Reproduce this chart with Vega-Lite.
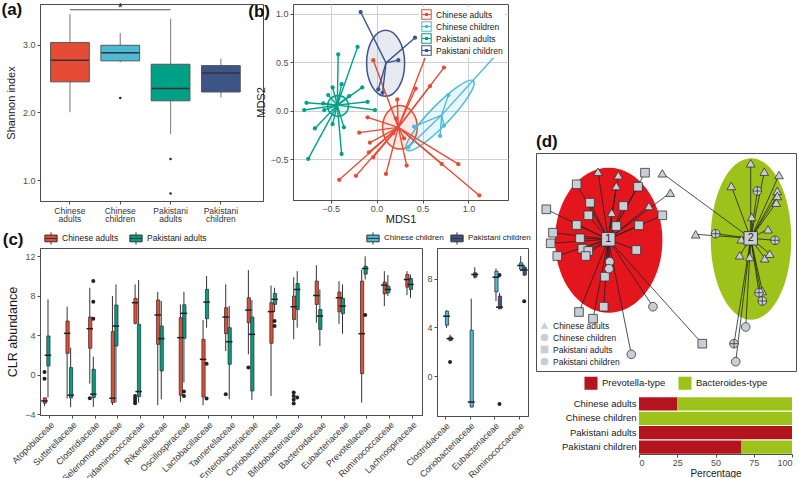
{
  "$schema": "https://vega.github.io/schema/vega-lite/v6.json",
  "padding": {"left": 0, "top": 0, "right": 0, "bottom": 0},
  "config": {
    "font": "Liberation Sans",
    "view": {"stroke": "#4d4d4d", "strokeWidth": 1},
    "axis": {"grid": false, "labelFontSize": 9, "labelColor": "#4d4d4d", "titleFontSize": 11, "titleFontWeight": "normal", "titleColor": "#1a1a1a", "tickColor": "#4d4d4d", "domainColor": "#4d4d4d", "tickSize": 3, "labelPadding": 2},
    "legend": {"labelFontSize": 10, "labelColor": "#1a1a1a", "titleFontSize": 10},
    "title": {"fontSize": 17, "fontWeight": "bold", "anchor": "start", "frame": "bounds", "color": "#111111"}
  },
  "datasets": {
    "shannon": [
      {"group": "Chinese adults", "lo": 2.0, "q1": 2.45, "median": 2.77, "q3": 3.03, "hi": 3.45},
      {"group": "Chinese children", "lo": 2.74, "q1": 2.76, "median": 2.88, "q3": 2.99, "hi": 3.17},
      {"group": "Pakistani adults", "lo": 1.68, "q1": 2.17, "median": 2.35, "q3": 2.71, "hi": 3.38},
      {"group": "Pakistani children", "lo": 2.22, "q1": 2.30, "median": 2.58, "q3": 2.69, "hi": 2.79}
    ],
    "shannon_out": [
      {"group": "Chinese children", "value": 2.21},
      {"group": "Pakistani adults", "value": 1.31},
      {"group": "Pakistani adults", "value": 0.80}
    ],
    "sig": [{"from": "Chinese adults", "to": "Pakistani adults", "mid": "Chinese children", "y": 3.515, "label": "*"}],
    "mds": [
      {"group": "Chinese adults", "MDS1": -0.036, "MDS2": 0.521},
      {"group": "Chinese adults", "MDS1": 0.574, "MDS2": 0.658},
      {"group": "Chinese adults", "MDS1": 0.733, "MDS2": 0.445},
      {"group": "Chinese adults", "MDS1": 0.581, "MDS2": 0.253},
      {"group": "Chinese adults", "MDS1": 0.425, "MDS2": 0.229},
      {"group": "Chinese adults", "MDS1": 0.225, "MDS2": 0.116},
      {"group": "Chinese adults", "MDS1": -0.098, "MDS2": -0.068},
      {"group": "Chinese adults", "MDS1": -0.189, "MDS2": -0.226},
      {"group": "Chinese adults", "MDS1": -0.073, "MDS2": -0.329},
      {"group": "Chinese adults", "MDS1": -0.084, "MDS2": -0.428},
      {"group": "Chinese adults", "MDS1": -0.036, "MDS2": -0.479},
      {"group": "Chinese adults", "MDS1": -0.407, "MDS2": -0.712},
      {"group": "Chinese adults", "MDS1": -0.225, "MDS2": -0.671},
      {"group": "Chinese adults", "MDS1": 0.102, "MDS2": -0.651},
      {"group": "Chinese adults", "MDS1": 0.327, "MDS2": -0.565},
      {"group": "Chinese adults", "MDS1": 0.708, "MDS2": -0.548},
      {"group": "Chinese adults", "MDS1": 0.890, "MDS2": -0.551},
      {"group": "Chinese adults", "MDS1": 1.118, "MDS2": -0.873},
      {"group": "Chinese adults", "MDS1": 0.298, "MDS2": -0.284},
      {"group": "Chinese adults", "MDS1": 0.211, "MDS2": -0.079},
      {"group": "Chinese adults", "MDS1": 0.182, "MDS2": -0.233},
      {"group": "Chinese children", "MDS1": 1.314, "MDS2": 0.589},
      {"group": "Chinese children", "MDS1": 0.781, "MDS2": 0.161},
      {"group": "Chinese children", "MDS1": 0.407, "MDS2": -0.164},
      {"group": "Chinese children", "MDS1": 0.690, "MDS2": -0.260},
      {"group": "Chinese children", "MDS1": 0.733, "MDS2": -0.154},
      {"group": "Chinese children", "MDS1": 0.345, "MDS2": -0.377},
      {"group": "Pakistani adults", "MDS1": -0.418, "MDS2": 0.582},
      {"group": "Pakistani adults", "MDS1": -0.207, "MDS2": 0.658},
      {"group": "Pakistani adults", "MDS1": -0.479, "MDS2": 0.240},
      {"group": "Pakistani adults", "MDS1": -0.381, "MDS2": 0.274},
      {"group": "Pakistani adults", "MDS1": -0.527, "MDS2": 0.161},
      {"group": "Pakistani adults", "MDS1": -0.581, "MDS2": 0.075},
      {"group": "Pakistani adults", "MDS1": -0.763, "MDS2": 0.082},
      {"group": "Pakistani adults", "MDS1": -0.788, "MDS2": 0.007},
      {"group": "Pakistani adults", "MDS1": -0.570, "MDS2": 0.007},
      {"group": "Pakistani adults", "MDS1": -0.672, "MDS2": -0.182},
      {"group": "Pakistani adults", "MDS1": -0.479, "MDS2": -0.137},
      {"group": "Pakistani adults", "MDS1": -0.356, "MDS2": -0.171},
      {"group": "Pakistani adults", "MDS1": -0.381, "MDS2": -0.445},
      {"group": "Pakistani adults", "MDS1": -0.744, "MDS2": -0.497},
      {"group": "Pakistani adults", "MDS1": -0.098, "MDS2": 0.092},
      {"group": "Pakistani adults", "MDS1": -0.018, "MDS2": 0.007},
      {"group": "Pakistani adults", "MDS1": -0.156, "MDS2": 0.240},
      {"group": "Pakistani adults", "MDS1": -0.298, "MDS2": 0.151},
      {"group": "Pakistani children", "MDS1": -0.174, "MDS2": 1.017},
      {"group": "Pakistani children", "MDS1": 0.418, "MDS2": 0.753},
      {"group": "Pakistani children", "MDS1": 0.236, "MDS2": 0.521},
      {"group": "Pakistani children", "MDS1": 0.018, "MDS2": 0.219},
      {"group": "Pakistani children", "MDS1": 0.065, "MDS2": 0.185}
    ],
    "mds_centroid": [
      {"group": "Chinese adults", "cx": 0.236, "cy": -0.171, "ex": 0.254, "ey": -0.171},
      {"group": "Chinese children", "cx": 0.708, "cy": -0.045, "ex": 0.69, "ey": -0.048},
      {"group": "Pakistani adults", "cx": -0.428, "cy": 0.058, "ex": -0.42, "ey": 0.05},
      {"group": "Pakistani children", "cx": 0.102, "cy": 0.493, "ex": 0.098, "ey": 0.49}
    ],
    "clr_adults": [
      {"family": "Atopobiaceae", "group": "Chinese adults", "lo": -3.2, "q1": -2.9, "median": -2.67, "q3": -2.36, "hi": -2.36},
      {"family": "Atopobiaceae", "group": "Pakistani adults", "lo": -2.33, "q1": 0.88, "median": 1.96, "q3": 3.92, "hi": 7.64},
      {"family": "Sutterellaceae", "group": "Chinese adults", "lo": -2.43, "q1": 2.16, "median": 4.19, "q3": 5.44, "hi": 6.9},
      {"family": "Sutterellaceae", "group": "Pakistani adults", "lo": -3.31, "q1": -2.36, "median": -2.09, "q3": 0.71, "hi": 2.74},
      {"family": "Clostridiaceae", "group": "Chinese adults", "lo": -0.91, "q1": 2.67, "median": 4.66, "q3": 5.84, "hi": 8.82},
      {"family": "Clostridiaceae", "group": "Pakistani adults", "lo": -3.28, "q1": -2.33, "median": -1.99, "q3": 0.54, "hi": 1.82},
      {"family": "Selenomonadaceae", "group": "Chinese adults", "lo": -3.1, "q1": -2.84, "median": -2.4, "q3": 4.36, "hi": 7.97},
      {"family": "Selenomonadaceae", "group": "Pakistani adults", "lo": -2.84, "q1": 2.91, "median": 4.93, "q3": 7.06, "hi": 9.16},
      {"family": "Acidaminococcaceae", "group": "Chinese adults", "lo": 5.1, "q1": 5.2, "median": 7.3, "q3": 7.74, "hi": 9.16},
      {"family": "Acidaminococcaceae", "group": "Pakistani adults", "lo": -2.84, "q1": -2.23, "median": -1.72, "q3": 5.1, "hi": 9.59},
      {"family": "Rikenellaceae", "group": "Chinese adults", "lo": -3.1, "q1": 3.07, "median": 6.05, "q3": 7.57, "hi": 8.41},
      {"family": "Rikenellaceae", "group": "Pakistani adults", "lo": -2.5, "q1": 0.37, "median": 3.65, "q3": 4.93, "hi": 7.47},
      {"family": "Oscillospiraceae", "group": "Chinese adults", "lo": -2.77, "q1": -2.09, "median": 3.75, "q3": 5.78, "hi": 7.13},
      {"family": "Oscillospiraceae", "group": "Pakistani adults", "lo": -0.81, "q1": 3.68, "median": 6.22, "q3": 7.09, "hi": 8.41},
      {"family": "Lactobacillaceae", "group": "Chinese adults", "lo": -3.1, "q1": -2.26, "median": 1.55, "q3": 3.58, "hi": 5.54},
      {"family": "Lactobacillaceae", "group": "Pakistani adults", "lo": 4.76, "q1": 5.68, "median": 7.36, "q3": 8.65, "hi": 10.0},
      {"family": "Tannerellaceae", "group": "Chinese adults", "lo": 2.4, "q1": 4.16, "median": 5.84, "q3": 6.79, "hi": 9.16},
      {"family": "Tannerellaceae", "group": "Pakistani adults", "lo": -2.5, "q1": 1.05, "median": 3.34, "q3": 4.76, "hi": 6.96},
      {"family": "Enterobacteriaceae", "group": "Chinese adults", "lo": 2.06, "q1": 5.27, "median": 6.55, "q3": 7.8, "hi": 10.6},
      {"family": "Enterobacteriaceae", "group": "Pakistani adults", "lo": -2.57, "q1": -1.66, "median": 4.09, "q3": 5.84, "hi": 7.57},
      {"family": "Coriobacteriaceae", "group": "Chinese adults", "lo": -2.16, "q1": 3.18, "median": 6.39, "q3": 7.3, "hi": 9.05},
      {"family": "Coriobacteriaceae", "group": "Pakistani adults", "lo": 6.35, "q1": 7.13, "median": 7.64, "q3": 8.24, "hi": 8.82},
      {"family": "Bifidobacteriaceae", "group": "Chinese adults", "lo": 3.58, "q1": 5.6, "median": 6.89, "q3": 7.97, "hi": 9.89},
      {"family": "Bifidobacteriaceae", "group": "Pakistani adults", "lo": 4.76, "q1": 6.61, "median": 8.64, "q3": 9.25, "hi": 10.5},
      {"family": "Bacteroidaceae", "group": "Chinese adults", "lo": 5.27, "q1": 7.12, "median": 8.03, "q3": 9.49, "hi": 11.1},
      {"family": "Bacteroidaceae", "group": "Pakistani adults", "lo": 2.9, "q1": 4.59, "median": 5.94, "q3": 6.61, "hi": 8.64},
      {"family": "Eubacteriaceae", "group": "Chinese adults", "lo": 5.16, "q1": 6.38, "median": 7.8, "q3": 8.37, "hi": 9.49},
      {"family": "Eubacteriaceae", "group": "Pakistani adults", "lo": 4.15, "q1": 6.18, "median": 6.95, "q3": 7.73, "hi": 9.15},
      {"family": "Prevotellaceae", "group": "Chinese adults", "lo": -2.84, "q1": 0.1, "median": 4.15, "q3": 9.49, "hi": 10.66},
      {"family": "Prevotellaceae", "group": "Pakistani adults", "lo": 9.65, "q1": 10.2, "median": 10.77, "q3": 11.0, "hi": 12.0},
      {"family": "Ruminococcaceae", "group": "Chinese adults", "lo": 6.95, "q1": 8.2, "median": 9.08, "q3": 9.39, "hi": 10.5},
      {"family": "Ruminococcaceae", "group": "Pakistani adults", "lo": 7.97, "q1": 8.3, "median": 8.64, "q3": 8.98, "hi": 10.1},
      {"family": "Lachnospiraceae", "group": "Chinese adults", "lo": 8.07, "q1": 8.88, "median": 9.65, "q3": 10.16, "hi": 10.5},
      {"family": "Lachnospiraceae", "group": "Pakistani adults", "lo": 7.8, "q1": 8.64, "median": 9.15, "q3": 9.75, "hi": 10.16}
    ],
    "clr_adults_out": [
      {"family": "Atopobiaceae", "group": "Chinese adults", "value": 0.27},
      {"family": "Atopobiaceae", "group": "Chinese adults", "value": -0.41},
      {"family": "Clostridiaceae", "group": "Chinese adults", "value": -2.4},
      {"family": "Clostridiaceae", "group": "Pakistani adults", "value": 9.49},
      {"family": "Clostridiaceae", "group": "Pakistani adults", "value": 7.4},
      {"family": "Clostridiaceae", "group": "Pakistani adults", "value": 5.68},
      {"family": "Acidaminococcaceae", "group": "Chinese adults", "value": -2.16},
      {"family": "Acidaminococcaceae", "group": "Chinese adults", "value": -2.43},
      {"family": "Acidaminococcaceae", "group": "Chinese adults", "value": -2.67},
      {"family": "Acidaminococcaceae", "group": "Chinese adults", "value": -2.9},
      {"family": "Oscillospiraceae", "group": "Pakistani adults", "value": -1.72},
      {"family": "Oscillospiraceae", "group": "Pakistani adults", "value": -2.16},
      {"family": "Lactobacillaceae", "group": "Pakistani adults", "value": 1.11},
      {"family": "Lactobacillaceae", "group": "Pakistani adults", "value": -2.43},
      {"family": "Tannerellaceae", "group": "Chinese adults", "value": -2.0},
      {"family": "Enterobacteriaceae", "group": "Chinese adults", "value": 0.71},
      {"family": "Coriobacteriaceae", "group": "Pakistani adults", "value": 5.44},
      {"family": "Coriobacteriaceae", "group": "Pakistani adults", "value": 4.93},
      {"family": "Bifidobacteriaceae", "group": "Chinese adults", "value": -1.82},
      {"family": "Bifidobacteriaceae", "group": "Chinese adults", "value": -2.16},
      {"family": "Bifidobacteriaceae", "group": "Chinese adults", "value": -2.56},
      {"family": "Bifidobacteriaceae", "group": "Chinese adults", "value": -2.94},
      {"family": "Bifidobacteriaceae", "group": "Pakistani adults", "value": -2.33},
      {"family": "Prevotellaceae", "group": "Pakistani adults", "value": 6.04}
    ],
    "clr_children": [
      {"family": "Clostridiaceae", "group": "Chinese children", "lo": 3.96, "q1": 4.18, "median": 4.92, "q3": 5.33, "hi": 5.41},
      {"family": "Clostridiaceae", "group": "Pakistani children", "lo": 2.92, "q1": 2.92, "median": 3.08, "q3": 3.22, "hi": 3.41},
      {"family": "Coriobacteriaceae", "group": "Chinese children", "lo": -2.52, "q1": -2.52, "median": -2.1, "q3": 3.77, "hi": 6.36},
      {"family": "Coriobacteriaceae", "group": "Pakistani children", "lo": 8.0, "q1": 8.11, "median": 8.33, "q3": 8.47, "hi": 8.93},
      {"family": "Eubacteriaceae", "group": "Chinese children", "lo": 6.15, "q1": 6.91, "median": 8.11, "q3": 8.6, "hi": 8.82},
      {"family": "Eubacteriaceae", "group": "Pakistani children", "lo": 5.52, "q1": 5.52, "median": 5.66, "q3": 6.56, "hi": 6.83},
      {"family": "Ruminococcaceae", "group": "Chinese children", "lo": 8.6, "q1": 8.74, "median": 9.07, "q3": 9.29, "hi": 9.84},
      {"family": "Ruminococcaceae", "group": "Pakistani children", "lo": 8.2, "q1": 8.28, "median": 8.69, "q3": 8.93, "hi": 9.1}
    ],
    "clr_children_out": [
      {"family": "Clostridiaceae", "group": "Pakistani children", "value": 1.17},
      {"family": "Eubacteriaceae", "group": "Pakistani children", "value": 8.28},
      {"family": "Eubacteriaceae", "group": "Pakistani children", "value": -2.27},
      {"family": "Ruminococcaceae", "group": "Pakistani children", "value": 6.15}
    ],
    "ent_points": [
      {"group": "Chinese adults", "cluster": "1", "PC1": -0.73, "PC2": 0.673},
      {"group": "Chinese adults", "cluster": "1", "PC1": -0.527, "PC2": 0.637},
      {"group": "Chinese adults", "cluster": "1", "PC1": -0.547, "PC2": 0.53},
      {"group": "Chinese adults", "cluster": "1", "PC1": -0.593, "PC2": 0.263},
      {"group": "Chinese adults", "cluster": "1", "PC1": -0.22, "PC2": 0.33},
      {"group": "Chinese adults", "cluster": "1", "PC1": -0.007, "PC2": 0.463},
      {"group": "Pakistani adults", "cluster": "1", "PC1": -0.26, "PC2": 0.663},
      {"group": "Pakistani adults", "cluster": "1", "PC1": -0.943, "PC2": 0.547},
      {"group": "Pakistani adults", "cluster": "1", "PC1": -0.81, "PC2": 0.363},
      {"group": "Pakistani adults", "cluster": "1", "PC1": -1.247, "PC2": 0.297},
      {"group": "Pakistani adults", "cluster": "1", "PC1": -0.827, "PC2": 0.237},
      {"group": "Pakistani adults", "cluster": "1", "PC1": -0.477, "PC2": 0.33},
      {"group": "Pakistani adults", "cluster": "1", "PC1": -0.33, "PC2": 0.523},
      {"group": "Pakistani adults", "cluster": "1", "PC1": -0.087, "PC2": 0.237},
      {"group": "Pakistani adults", "cluster": "1", "PC1": -0.943, "PC2": 0.14},
      {"group": "Pakistani adults", "cluster": "1", "PC1": -0.32, "PC2": 0.137},
      {"group": "Pakistani adults", "cluster": "1", "PC1": -0.547, "PC2": 0.13},
      {"group": "Pakistani adults", "cluster": "1", "PC1": -1.18, "PC2": 0.063},
      {"group": "Pakistani adults", "cluster": "1", "PC1": -0.91, "PC2": 0.007},
      {"group": "Pakistani adults", "cluster": "1", "PC1": -1.203, "PC2": -0.043},
      {"group": "Pakistani adults", "cluster": "1", "PC1": -0.887, "PC2": -0.097},
      {"group": "Pakistani adults", "cluster": "1", "PC1": -0.827, "PC2": -0.12},
      {"group": "Pakistani adults", "cluster": "1", "PC1": -0.853, "PC2": -0.17},
      {"group": "Pakistani adults", "cluster": "1", "PC1": -1.137, "PC2": -0.17},
      {"group": "Pakistani adults", "cluster": "1", "PC1": -0.347, "PC2": -0.11},
      {"group": "Pakistani adults", "cluster": "1", "PC1": -0.66, "PC2": -0.377},
      {"group": "Pakistani adults", "cluster": "1", "PC1": -0.673, "PC2": -0.677},
      {"group": "Pakistani adults", "cluster": "1", "PC1": -0.92, "PC2": -0.73},
      {"group": "Pakistani adults", "cluster": "1", "PC1": -0.78, "PC2": -0.797},
      {"group": "Pakistani adults", "cluster": "1", "PC1": 0.313, "PC2": -1.047},
      {"group": "Pakistani children", "cluster": "1", "PC1": -0.613, "PC2": -0.227},
      {"group": "Pakistani children", "cluster": "1", "PC1": -0.62, "PC2": -0.297},
      {"group": "Pakistani children", "cluster": "1", "PC1": -0.18, "PC2": -0.677},
      {"group": "Pakistani children", "cluster": "1", "PC1": -0.397, "PC2": -1.153},
      {"group": "Chinese adults", "cluster": "2", "PC1": -0.087, "PC2": 0.657},
      {"group": "Chinese adults", "cluster": "2", "PC1": 0.797, "PC2": 0.757},
      {"group": "Chinese adults", "cluster": "2", "PC1": 0.933, "PC2": 0.673},
      {"group": "Chinese adults", "cluster": "2", "PC1": 1.08, "PC2": 0.64},
      {"group": "Chinese adults", "cluster": "2", "PC1": 0.603, "PC2": 0.53},
      {"group": "Chinese adults", "cluster": "2", "PC1": 1.063, "PC2": 0.48},
      {"group": "Chinese adults", "cluster": "2", "PC1": 1.063, "PC2": 0.43},
      {"group": "Chinese adults", "cluster": "2", "PC1": 1.053, "PC2": 0.363},
      {"group": "Chinese adults", "cluster": "2", "PC1": 0.807, "PC2": 0.22},
      {"group": "Chinese adults", "cluster": "2", "PC1": 0.247, "PC2": 0.047},
      {"group": "Chinese adults", "cluster": "2", "PC1": 0.97, "PC2": 0.097},
      {"group": "Chinese adults", "cluster": "2", "PC1": 0.703, "PC2": -0.003},
      {"group": "Chinese adults", "cluster": "2", "PC1": 0.687, "PC2": -0.163},
      {"group": "Chinese adults", "cluster": "2", "PC1": 0.787, "PC2": -0.18},
      {"group": "Chinese adults", "cluster": "2", "PC1": 0.937, "PC2": -0.193},
      {"group": "Chinese adults", "cluster": "2", "PC1": 0.987, "PC2": -0.147},
      {"group": "Chinese adults", "cluster": "2", "PC1": 0.913, "PC2": -0.52},
      {"group": "Chinese children", "cluster": "2", "PC1": 0.863, "PC2": 0.48},
      {"group": "Chinese children", "cluster": "2", "PC1": 0.447, "PC2": 0.053},
      {"group": "Chinese children", "cluster": "2", "PC1": 1.04, "PC2": -0.013},
      {"group": "Chinese children", "cluster": "2", "PC1": 0.88, "PC2": -0.537},
      {"group": "Chinese children", "cluster": "2", "PC1": 0.913, "PC2": -0.62},
      {"group": "Chinese children", "cluster": "2", "PC1": 0.63, "PC2": -1.047},
      {"group": "Pakistani children", "cluster": "2", "PC1": 0.747, "PC2": -0.88},
      {"group": "Pakistani children", "cluster": "2", "PC1": 0.647, "PC2": -1.227}
    ],
    "ent_centroids": [
      {"cluster": "1", "label": "1", "cx": -0.627, "cy": -0.003, "ex": -0.623, "ey": -0.012},
      {"cluster": "2", "label": "2", "cx": 0.797, "cy": 0.007, "ex": 0.80, "ey": 0.0}
    ],
    "ent_bar": [
      {"group": "Chinese adults", "type": "Prevotella-type", "pct": 25},
      {"group": "Chinese adults", "type": "Bacteroides-type", "pct": 75},
      {"group": "Chinese children", "type": "Prevotella-type", "pct": 0},
      {"group": "Chinese children", "type": "Bacteroides-type", "pct": 100},
      {"group": "Pakistani adults", "type": "Prevotella-type", "pct": 100},
      {"group": "Pakistani adults", "type": "Bacteroides-type", "pct": 0},
      {"group": "Pakistani children", "type": "Prevotella-type", "pct": 67},
      {"group": "Pakistani children", "type": "Bacteroides-type", "pct": 33}
    ]
  },
  "resolve": {"scale": {"color": "independent", "shape": "independent", "stroke": "independent", "fill": "independent"}, "legend": {"color": "independent", "shape": "independent", "stroke": "independent", "fill": "independent"}},
  "spacing": 3,
  "hconcat": [
    {
      "spacing": 5,
      "resolve": {"scale": {"color": "independent", "shape": "independent", "stroke": "independent", "fill": "independent"}, "legend": {"color": "independent", "shape": "independent", "stroke": "independent", "fill": "independent"}},
      "vconcat": [
        {
          "bounds": "flush",
          "spacing": 30,
          "resolve": {"scale": {"color": "independent", "shape": "independent", "stroke": "independent", "fill": "independent"}, "legend": {"color": "independent", "shape": "independent", "stroke": "independent", "fill": "independent"}},
          "hconcat": [
            {
              "width": 223,
              "height": 197,
              "title": {"text": "(a)", "offset": -17, "dx": -4},
              "encoding": {
                "x": {"field": "group", "type": "nominal", "title": null,
                  "scale": {"domain": ["Chinese adults", "Chinese children", "Pakistani adults", "Pakistani children"], "paddingInner": 0, "paddingOuter": 0.216, "align": 0.22},
                  "axis": {"labelAngle": 0, "labelExpr": "split(datum.label, ' ')", "labelFontSize": 8.5, "labelLineHeight": 8.5, "labelColor": "#333333"}}
              },
              "layer": [
                {"data": {"name": "shannon"}, "mark": {"type": "rule", "color": "#8c8c8c", "strokeWidth": 1.2},
                  "encoding": {"y": {"field": "lo", "type": "quantitative", "title": "Shannon index", "scale": {"domain": [0.69, 3.6], "nice": false, "zero": false}, "axis": {"values": [1, 1.5, 2, 2.5, 3, 3.5], "format": ".1f", "titlePadding": 6}}, "y2": {"field": "hi"}}},
                {"data": {"name": "shannon"}, "mark": {"type": "bar", "width": {"band": 0.77}, "stroke": "#555555", "strokeWidth": 1, "opacity": 1},
                  "encoding": {"y": {"field": "q1", "type": "quantitative", "title": "Shannon index"}, "y2": {"field": "q3"},
                    "color": {"field": "group", "type": "nominal", "scale": {"domain": ["Chinese adults", "Chinese children", "Pakistani adults", "Pakistani children"], "range": ["#E64B35", "#4DBBD5", "#00A087", "#3C5488"]}, "legend": null}}},
                {"data": {"name": "shannon"}, "mark": {"type": "tick", "color": "#333333", "size": 38, "thickness": 1.5, "opacity": 1},
                  "encoding": {"y": {"field": "median", "type": "quantitative", "title": "Shannon index"}}},
                {"data": {"name": "shannon_out"}, "mark": {"type": "point", "filled": true, "size": 6, "color": "#222222", "opacity": 1},
                  "encoding": {"y": {"field": "value", "type": "quantitative", "title": "Shannon index"}}},
                {"data": {"name": "sig"}, "mark": {"type": "rule", "color": "#555555", "strokeWidth": 1},
                  "encoding": {"x": {"field": "from", "type": "nominal", "title": null}, "x2": {"field": "to"}, "y": {"field": "y", "type": "quantitative", "title": "Shannon index"}}},
                {"data": {"name": "sig"}, "mark": {"type": "text", "fontSize": 13, "color": "#222222", "baseline": "middle", "dy": -2},
                  "encoding": {"x": {"field": "mid", "type": "nominal", "title": null}, "y": {"field": "y", "type": "quantitative", "title": "Shannon index"}, "text": {"field": "label"}}}
              ]
            },
            {
              "width": 215,
              "height": 196,
              "title": {"text": "(b)", "offset": -17, "dx": -7},
              "layer": [
                {"data": {"name": "mds_centroid"}, "transform": [{"filter": "datum.group == 'Chinese adults'"}],
                  "mark": {"type": "point", "filled": true, "shape": "M -0.8 0 A 0.8 1 0 1 0 0.8 0 A 0.8 1 0 1 0 -0.8 0 Z", "size": 1884, "fillOpacity": 0.12, "strokeWidth": 1.5, "opacity": 1},
                  "encoding": {
                    "x": {"field": "ex", "type": "quantitative", "title": "MDS1", "scale": {"domain": [-0.91, 1.43], "nice": false, "zero": false}, "axis": {"values": [-0.5, 0, 0.5, 1], "format": ".1f", "grid": true, "gridColor": "#d0d0d0", "titlePadding": 0, "labelPadding": 1}},
                    "y": {"field": "ey", "type": "quantitative", "title": "MDS2", "scale": {"domain": [-0.92, 1.1], "nice": false, "zero": false}, "axis": {"values": [-0.5, 0, 0.5, 1], "format": ".1f", "grid": true, "gridColor": "#d0d0d0", "titlePadding": 4}},
                    "color": {"field": "group", "type": "nominal", "scale": {"domain": ["Chinese adults", "Chinese children", "Pakistani adults", "Pakistani children"], "range": ["#E64B35", "#4DBBD5", "#00A087", "#3C5488"]}},
                    "stroke": {"field": "group", "type": "nominal", "scale": {"domain": ["Chinese adults", "Chinese children", "Pakistani adults", "Pakistani children"], "range": ["#E64B35", "#4DBBD5", "#00A087", "#3C5488"]}, "legend": null}
                  }},
                {"data": {"name": "mds_centroid"}, "transform": [{"filter": "datum.group == 'Chinese children'"}],
                  "mark": {"type": "point", "filled": true, "shape": "M 0.6947 -0.7193 A 1 0.21 -46 1 0 -0.6947 0.7193 A 1 0.21 -46 1 0 0.6947 -0.7193 Z", "size": 9216, "fillOpacity": 0.12, "strokeWidth": 1.5, "opacity": 1},
                  "encoding": {
                    "x": {"field": "ex", "type": "quantitative", "title": "MDS1"},
                    "y": {"field": "ey", "type": "quantitative", "title": "MDS2"},
                    "color": {"field": "group", "type": "nominal"},
                    "stroke": {"field": "group", "type": "nominal", "legend": null}
                  }},
                {"data": {"name": "mds_centroid"}, "transform": [{"filter": "datum.group == 'Pakistani adults'"}],
                  "mark": {"type": "point", "filled": true, "shape": "circle", "size": 441, "fillOpacity": 0.12, "strokeWidth": 1.5, "opacity": 1},
                  "encoding": {
                    "x": {"field": "ex", "type": "quantitative", "title": "MDS1"},
                    "y": {"field": "ey", "type": "quantitative", "title": "MDS2"},
                    "color": {"field": "group", "type": "nominal"},
                    "stroke": {"field": "group", "type": "nominal", "legend": null}
                  }},
                {"data": {"name": "mds_centroid"}, "transform": [{"filter": "datum.group == 'Pakistani children'"}],
                  "mark": {"type": "point", "filled": true, "shape": "M -0.576 0 A 0.576 1 0 1 0 0.576 0 A 0.576 1 0 1 0 -0.576 0 Z", "size": 4356, "fillOpacity": 0.12, "strokeWidth": 1.5, "opacity": 1},
                  "encoding": {
                    "x": {"field": "ex", "type": "quantitative", "title": "MDS1"},
                    "y": {"field": "ey", "type": "quantitative", "title": "MDS2"},
                    "color": {"field": "group", "type": "nominal"},
                    "stroke": {"field": "group", "type": "nominal", "legend": null}
                  }},
                {"data": {"name": "mds"},
                  "transform": [{"lookup": "group", "from": {"data": {"name": "mds_centroid"}, "key": "group", "fields": ["cx", "cy"]}}],
                  "mark": {"type": "rule", "strokeWidth": 1.4},
                  "encoding": {
                    "x": {"field": "MDS1", "type": "quantitative", "title": "MDS1"},
                    "y": {"field": "MDS2", "type": "quantitative", "title": "MDS2"},
                    "x2": {"field": "cx"}, "y2": {"field": "cy"},
                    "color": {"field": "group", "type": "nominal",
                      "legend": {"orient": "top-right", "offset": 3, "title": null, "fillColor": "white", "padding": 2, "symbolType": "M -1 -1 H 1 V 1 H -1 Z M -0.8 -0.8 V 0.8 H 0.8 V -0.8 Z M -0.8 -0.1 H 0.8 V 0.1 H -0.8 Z M -0.3 -0.3 H 0.3 V 0.3 H -0.3 Z", "symbolSize": 110, "symbolStrokeWidth": 0, "labelFontSize": 8.5, "rowPadding": 1}}
                  }},
                {"data": {"name": "mds"}, "mark": {"type": "point", "filled": true, "size": 18, "opacity": 1},
                  "encoding": {
                    "x": {"field": "MDS1", "type": "quantitative", "title": "MDS1"},
                    "y": {"field": "MDS2", "type": "quantitative", "title": "MDS2"},
                    "color": {"field": "group", "type": "nominal"}
                  }}
              ]
            }
          ]
        },
        {
          "bounds": "flush",
          "spacing": 15,
          "resolve": {"scale": {"color": "independent", "shape": "independent", "stroke": "independent", "fill": "independent"}, "legend": {"color": "independent", "shape": "independent", "stroke": "independent", "fill": "independent"}},
          "hconcat": [
            {
              "width": 382,
              "height": 167,
              "title": {"text": "(c)", "offset": -18, "dx": -4},
              "encoding": {
                "x": {"field": "family", "type": "nominal", "title": null,
                  "scale": {"domain": ["Atopobiaceae", "Sutterellaceae", "Clostridiaceae", "Selenomonadaceae", "Acidaminococcaceae", "Rikenellaceae", "Oscillospiraceae", "Lactobacillaceae", "Tannerellaceae", "Enterobacteriaceae", "Coriobacteriaceae", "Bifidobacteriaceae", "Bacteroidaceae", "Eubacteriaceae", "Prevotellaceae", "Ruminococcaceae", "Lachnospiraceae"], "paddingInner": 0.38, "paddingOuter": 0.12},
                  "axis": {"labelAngle": -45, "labelFontSize": 9, "labelColor": "#333333"}},
                "xOffset": {"field": "group", "type": "nominal", "scale": {"domain": ["Chinese adults", "Pakistani adults"], "paddingInner": 0, "paddingOuter": 0}}
              },
              "layer": [
                {"data": {"name": "clr_adults"}, "mark": {"type": "rule", "color": "#333333", "strokeWidth": 1},
                  "encoding": {"y": {"field": "lo", "type": "quantitative", "title": "CLR abundance", "scale": {"domain": [-4.1, 12.85], "nice": false, "zero": false}, "axis": {"values": [-4, 0, 4, 8, 12], "titleFontSize": 12.5, "titlePadding": 5}}, "y2": {"field": "hi"}}},
                {"data": {"name": "clr_adults"}, "mark": {"type": "bar", "width": {"band": 0.92}, "stroke": "#333333", "strokeWidth": 0.8, "opacity": 1},
                  "encoding": {"y": {"field": "q1", "type": "quantitative", "title": "CLR abundance"}, "y2": {"field": "q3"},
                    "color": {"field": "group", "type": "nominal", "scale": {"domain": ["Chinese adults", "Pakistani adults"], "range": ["#E64B35", "#00A087"]},
                      "legend": {"orient": "none", "legendX": 4, "legendY": -17, "direction": "horizontal", "title": null, "symbolType": "M -1 -0.55 H 1 V 0.55 H -1 Z M -1 0 H 1 M 0 -1 V -0.55 M 0 0.55 V 1", "symbolSize": 150, "symbolStrokeColor": "#333333", "symbolStrokeWidth": 1, "labelFontSize": 8.5, "columnPadding": 8}}}},
                {"data": {"name": "clr_adults"}, "mark": {"type": "tick", "color": "#222222", "size": 6.5, "thickness": 1.5, "opacity": 1},
                  "encoding": {"y": {"field": "median", "type": "quantitative", "title": "CLR abundance"}}},
                {"data": {"name": "clr_adults_out"}, "mark": {"type": "point", "filled": true, "size": 16, "color": "#222222", "opacity": 1},
                  "encoding": {"y": {"field": "value", "type": "quantitative", "title": "CLR abundance"}}}
              ]
            },
            {
              "width": 91,
              "height": 168,
              "encoding": {
                "x": {"field": "family", "type": "nominal", "title": null,
                  "scale": {"domain": ["Clostridiaceae", "Coriobacteriaceae", "Eubacteriaceae", "Ruminococcaceae"], "paddingInner": 0.38, "paddingOuter": 0.03},
                  "axis": {"labelAngle": -45, "labelFontSize": 9, "labelColor": "#333333"}},
                "xOffset": {"field": "group", "type": "nominal", "scale": {"domain": ["Chinese children", "Pakistani children"], "paddingInner": 0, "paddingOuter": 0}}
              },
              "layer": [
                {"data": {"name": "clr_children"}, "mark": {"type": "rule", "color": "#333333", "strokeWidth": 1},
                  "encoding": {"y": {"field": "lo", "type": "quantitative", "title": null, "scale": {"domain": [-3.25, 10.5], "nice": false, "zero": false}, "axis": {"values": [0, 4, 8]}}, "y2": {"field": "hi"}}},
                {"data": {"name": "clr_children"}, "mark": {"type": "bar", "width": {"band": 0.92}, "stroke": "#333333", "strokeWidth": 0.8, "opacity": 1},
                  "encoding": {"y": {"field": "q1", "type": "quantitative", "title": null}, "y2": {"field": "q3"},
                    "color": {"field": "group", "type": "nominal", "scale": {"domain": ["Chinese children", "Pakistani children"], "range": ["#4DBBD5", "#3C5488"]},
                      "legend": {"orient": "none", "legendX": -71, "legendY": -17, "direction": "horizontal", "title": null, "symbolType": "M -1 -0.55 H 1 V 0.55 H -1 Z M -1 0 H 1 M 0 -1 V -0.55 M 0 0.55 V 1", "symbolSize": 150, "symbolStrokeColor": "#333333", "symbolStrokeWidth": 1, "labelFontSize": 8, "columnPadding": 4}}}},
                {"data": {"name": "clr_children"}, "mark": {"type": "tick", "color": "#222222", "size": 7, "thickness": 1.5, "opacity": 1},
                  "encoding": {"y": {"field": "median", "type": "quantitative", "title": null}}},
                {"data": {"name": "clr_children_out"}, "mark": {"type": "point", "filled": true, "size": 16, "color": "#222222", "opacity": 1},
                  "encoding": {"y": {"field": "value", "type": "quantitative", "title": null}}}
              ]
            }
          ]
        }
      ]
    },
    {
      "spacing": 4,
      "resolve": {"scale": {"color": "independent", "shape": "independent", "stroke": "independent", "fill": "independent"}, "legend": {"color": "independent", "shape": "independent", "stroke": "independent", "fill": "independent"}},
      "vconcat": [
        {"width": 5, "height": 124, "view": {"stroke": null}, "data": {"values": [{"a": 1}]}, "mark": {"type": "point", "opacity": 0}, "encoding": {}},
        {
          "width": 260,
          "height": 218,
          "title": {"text": "(d)", "offset": 2},
          "layer": [
            {"data": {"name": "ent_centroids"}, "transform": [{"filter": "datum.cluster == '1'"}],
              "mark": {"type": "point", "filled": true, "shape": "M -0.7407 0 A 0.7407 1 0 1 0 0.7407 0 A 0.7407 1 0 1 0 -0.7407 0 Z", "size": 21025, "color": "#E3151D", "opacity": 1, "strokeWidth": 0},
              "encoding": {
                "x": {"field": "ex", "type": "quantitative", "scale": {"domain": [-1.35, 1.25], "nice": false, "zero": false}, "axis": null},
                "y": {"field": "ey", "type": "quantitative", "scale": {"domain": [-1.32, 0.86], "nice": false, "zero": false}, "axis": null}
              }},
            {"data": {"name": "ent_centroids"}, "transform": [{"filter": "datum.cluster == '2'"}],
              "mark": {"type": "point", "filled": true, "shape": "M -0.4988 0 A 0.4988 1 0 1 0 0.4988 0 A 0.4988 1 0 1 0 -0.4988 0 Z", "size": 26115, "color": "#9DC31B", "opacity": 1, "strokeWidth": 0},
              "encoding": {
                "x": {"field": "ex", "type": "quantitative", "axis": null},
                "y": {"field": "ey", "type": "quantitative", "axis": null}
              }},
            {"mark": {"type": "rule", "color": "#333333", "strokeWidth": 0.9},
              "encoding": {"x": {"datum": 0, "type": "quantitative", "axis": null}}},
            {"mark": {"type": "rule", "color": "#333333", "strokeWidth": 0.9},
              "encoding": {"y": {"datum": 0, "type": "quantitative", "axis": null}}},
            {"data": {"name": "ent_points"},
              "transform": [{"lookup": "cluster", "from": {"data": {"name": "ent_centroids"}, "key": "cluster", "fields": ["cx", "cy"]}}],
              "mark": {"type": "rule", "color": "#222222", "strokeWidth": 0.8},
              "encoding": {
                "x": {"field": "PC1", "type": "quantitative", "axis": null},
                "y": {"field": "PC2", "type": "quantitative", "axis": null},
                "x2": {"field": "cx"}, "y2": {"field": "cy"}
              }},
            {"data": {"name": "ent_points"},
              "mark": {"type": "point", "filled": true, "fill": "#C8CED6", "stroke": "#333333", "strokeWidth": 0.8, "size": 75, "opacity": 1},
              "encoding": {
                "x": {"field": "PC1", "type": "quantitative", "axis": null},
                "y": {"field": "PC2", "type": "quantitative", "axis": null},
                "shape": {"field": "group", "type": "nominal",
                  "scale": {"domain": ["Chinese adults", "Chinese children", "Pakistani adults", "Pakistani children"], "range": ["triangle-up", "M -1 0 A 1 1 0 1 0 1 0 A 1 1 0 1 0 -1 0 Z M -1 0 L 1 0 M 0 -1 L 0 1", "square", "circle"]},
                  "legend": {"orient": "bottom-left", "offset": 4, "title": null, "symbolSize": 60, "symbolFillColor": "#C8CED6", "symbolStrokeColor": "#333333", "symbolStrokeWidth": 0.8, "labelFontSize": 8.5, "rowPadding": 1, "padding": 0}}
              }},
            {"data": {"name": "ent_centroids"},
              "mark": {"type": "point", "filled": true, "shape": "square", "fill": "#C8CED6", "stroke": "#333333", "strokeWidth": 0.9, "size": 180, "opacity": 1},
              "encoding": {
                "x": {"field": "cx", "type": "quantitative", "axis": null},
                "y": {"field": "cy", "type": "quantitative", "axis": null}
              }},
            {"data": {"name": "ent_centroids"},
              "mark": {"type": "text", "fontSize": 11, "color": "#222222", "baseline": "middle", "align": "center"},
              "encoding": {
                "x": {"field": "cx", "type": "quantitative", "axis": null},
                "y": {"field": "cy", "type": "quantitative", "axis": null},
                "text": {"field": "label"}
              }}
          ]
        },
        {
          "bounds": "flush",
          "spacing": 0,
          "resolve": {"scale": {"color": "independent"}, "legend": {"color": "independent"}},
          "hconcat": [
            {"width": 103, "height": 10, "view": {"stroke": null}, "data": {"values": [{"a": 1}]}, "mark": {"type": "point", "opacity": 0}, "encoding": {}},
            {
              "width": 153,
              "height": 57,
              "view": {"stroke": null},
              "data": {"name": "ent_bar"},
              "mark": {"type": "bar", "opacity": 1},
              "encoding": {
                "y": {"field": "group", "type": "nominal", "title": null,
                  "scale": {"domain": ["Chinese adults", "Chinese children", "Pakistani adults", "Pakistani children"], "paddingInner": 0.08, "paddingOuter": 0.02},
                  "axis": {"ticks": false, "domain": false, "labelFontSize": 9.5, "labelColor": "#1a1a1a", "labelPadding": 3}},
                "x": {"field": "pct", "type": "quantitative", "stack": "zero",
                  "scale": {"domain": [0, 100], "nice": false},
                  "axis": {"values": [0, 25, 50, 75, 100], "title": "Percentage", "titleFontSize": 10, "titlePadding": 1, "labelFontSize": 9, "labelPadding": 1}},
                "color": {"field": "type", "type": "nominal",
                  "scale": {"domain": ["Prevotella-type", "Bacteroides-type"], "range": ["#B4141E", "#9DC31B"]},
                  "legend": {"orient": "none", "legendX": -55, "legendY": -21, "direction": "horizontal", "title": null, "symbolType": "square", "symbolSize": 170, "symbolStrokeWidth": 0, "labelFontSize": 9.5, "columnPadding": 12}},
                "order": {"field": "type", "sort": "descending"}
              }
            }
          ]
        }
      ]
    }
  ]
}
